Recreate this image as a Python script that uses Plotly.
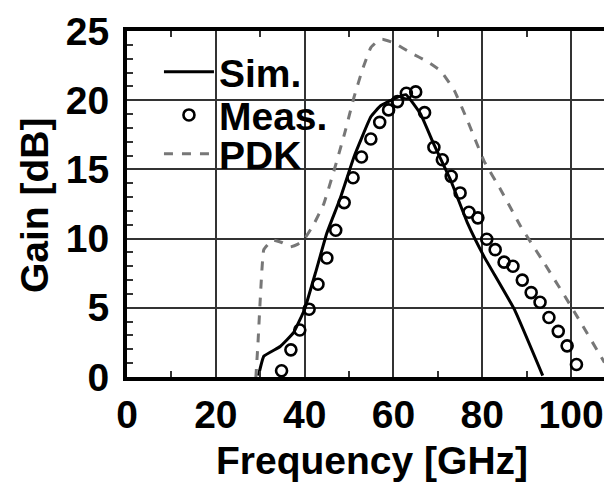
import plotly.graph_objects as go

# Simulated gain (solid line)
sim_f = [29.6, 30.8, 34.5, 37.5, 40.0, 42.5, 45.0, 48.0, 51.1, 54.9, 57.1, 60.1, 62.8, 66.1, 69.1, 72.9, 76.7, 80.4, 87.2, 93.6]
sim_g = [0.1, 1.5, 2.2, 3.2, 4.9, 7.6, 10.4, 12.9, 15.9, 18.8, 19.6, 20.1, 20.4, 19.0, 16.8, 14.2, 11.1, 8.7, 4.9, 0.1]

# Measured gain (open circles)
meas_f = [34.8, 36.9, 38.9, 41.0, 43.0, 45.0, 47.0, 48.9, 50.9, 52.8, 54.9, 56.9, 58.9, 60.9, 62.9, 65.0,
          67.0, 69.1, 71.0, 73.0, 75.0, 77.0, 79.0, 81.0, 82.9, 84.9, 86.9, 89.0, 91.0, 93.0, 95.0, 97.1, 99.1, 101.2]
meas_g = [0.45, 1.96, 3.4, 4.9, 6.7, 8.6, 10.6, 12.6, 14.4, 15.9, 17.2, 18.4, 19.3, 19.9, 20.5, 20.6,
          19.1, 16.6, 15.7, 14.5, 13.3, 11.9, 11.5, 9.95, 9.2, 8.3, 8.0, 7.0, 6.1, 5.4, 4.3, 3.3, 2.25, 0.9]

# PDK gain (dashed grey)
pdk_f = [29.0, 29.5, 30.0, 30.8, 32.7, 35.0, 36.8, 38.5, 39.8, 42.0, 44.3, 46.6, 49.0, 51.1, 53.0, 54.9,
         56.5, 57.5, 60.1, 64.0, 67.6, 70.7, 73.7, 76.7, 80.4, 84.2, 88.7, 94.0, 100.0, 107.5]
pdk_g = [-0.1, 2.5, 5.6, 9.2, 9.9, 9.7, 9.4, 9.6, 9.9, 11.0, 12.5, 14.9, 17.6, 20.2, 22.2, 23.8,
         24.3, 24.4, 24.15, 23.4, 22.8, 22.1, 20.7, 18.5, 15.6, 13.5, 10.85, 8.2, 5.1, 1.05]

x_title = "Frequency [GHz]"
y_title = "Gain [dB]"

FONT = "Liberation Sans, Arial, sans-serif"
TF = dict(size=39, family=FONT, weight="bold", color="black")
LF = dict(size=39, family=FONT, weight="bold", color="black")

fig = go.Figure()
fig.add_trace(go.Scatter(x=sim_f, y=sim_g, name="Sim.", mode="lines", legend="legend",
                         line=dict(color="black", width=3, shape="spline", smoothing=0.3)))
fig.add_trace(go.Scatter(x=meas_f, y=meas_g, name="Meas.", mode="markers", legend="legend2",
                         marker=dict(symbol="circle-open", size=11, color="black", line=dict(width=2.6))))
fig.add_trace(go.Scatter(x=pdk_f, y=pdk_g, name="PDK", mode="lines", legend="legend3",
                         line=dict(color="#777777", width=3, dash="dash", shape="spline", smoothing=0.3)))

leg_common = dict(x=0.067, xanchor="left", yanchor="middle", bgcolor="rgba(0,0,0,0)",
                  font=LF, itemwidth=50, borderwidth=0)

fig.update_layout(
    width=604, height=482,
    margin=dict(l=127, r=0, t=31, b=105),
    paper_bgcolor="white", plot_bgcolor="white",
    font=dict(family=FONT, size=39, color="black", weight="bold"),
    showlegend=True,
    legend=dict(y=0.882, **leg_common),
    legend2=dict(y=0.757, **leg_common),
    legend3=dict(y=0.645, **leg_common),
    xaxis=dict(range=[0, 107.4], dtick=20, tick0=0, automargin=False,
               showgrid=True, gridcolor="#333333", gridwidth=1.5,
               showline=True, linecolor="black", linewidth=4, mirror="ticks",
               ticks="inside", ticklen=6, tickwidth=1.5, tickcolor="#333333",
               minor=dict(dtick=10, ticks="inside", ticklen=6, tickwidth=1.5, tickcolor="#333333", showgrid=False),
               zeroline=False, tickfont=TF),
    yaxis=dict(range=[0, 25], dtick=5, tick0=0, automargin=False,
               showgrid=True, gridcolor="#333333", gridwidth=1.5,
               showline=True, linecolor="black", linewidth=4, mirror=True,
               ticks="inside", ticklen=6, tickwidth=1.5, tickcolor="#333333",
               minor=dict(dtick=1, ticks="inside", ticklen=6, tickwidth=1.5, tickcolor="#333333", showgrid=False),
               zeroline=False, tickfont=TF, ticklabelstandoff=6),
    annotations=[
        dict(text=x_title, xref="paper", yref="paper", x=0.5126, y=-0.24,
             xanchor="center", yanchor="middle", showarrow=False, font=TF),
        dict(text=y_title, xref="paper", yref="paper", x=-0.195, y=0.497, textangle=-90,
             xanchor="center", yanchor="middle", showarrow=False, font=TF),
    ],
)

fig.write_html("out.html",
               config={"displayModeBar": False},
               post_script="document.body.style.margin='0';document.body.style.padding='0';document.documentElement.style.overflow='hidden';")
